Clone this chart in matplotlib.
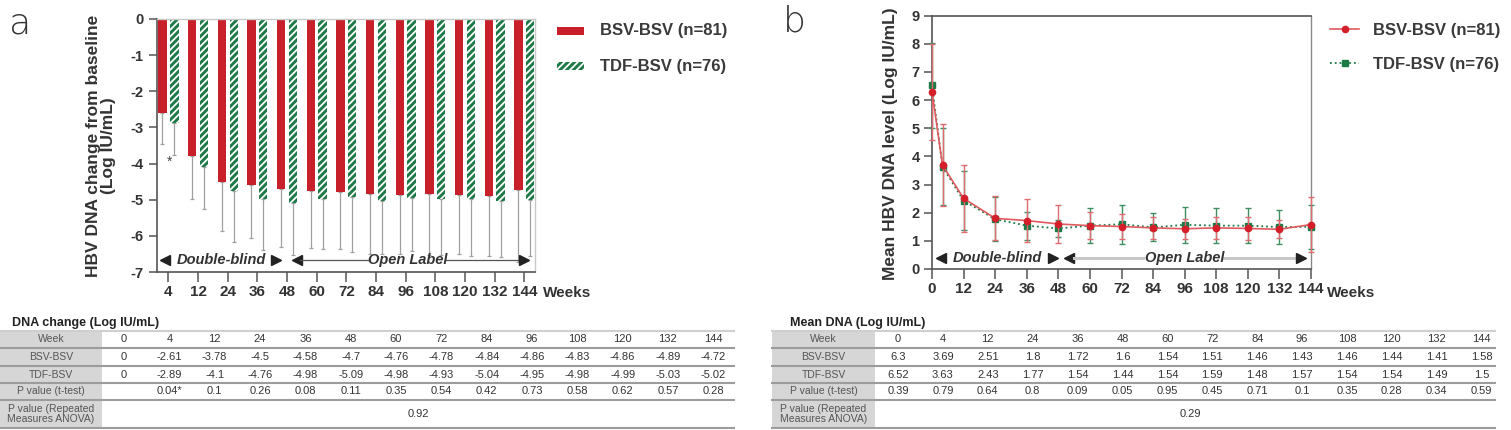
import matplotlib
matplotlib.use('Agg')
import matplotlib.pyplot as plt
import numpy as np
from matplotlib import font_manager as fm
from matplotlib.patches import Rectangle
from matplotlib.lines import Line2D

# ---------------- data ----------------
weeks_a = [4, 12, 24, 36, 48, 60, 72, 84, 96, 108, 120, 132, 144]
bsv_change = [-2.61, -3.78, -4.5, -4.58, -4.7, -4.76, -4.78, -4.84, -4.86, -4.83, -4.86, -4.89, -4.72]
tdf_change = [-2.89, -4.1, -4.76, -4.98, -5.09, -4.98, -4.93, -5.04, -4.95, -4.98, -4.99, -5.03, -5.02]
bsv_change_sd = [0.85, 1.20, 1.37, 1.48, 1.61, 1.57, 1.58, 1.65, 1.65, 1.69, 1.65, 1.68, 2.0]
tdf_change_sd = [0.88, 1.16, 1.42, 1.42, 1.45, 1.37, 1.53, 1.45, 1.48, 1.54, 1.58, 1.55, 1.55]

weeks_b = [0, 4, 12, 24, 36, 48, 60, 72, 84, 96, 108, 120, 132, 144]
bsv_mean = [6.3, 3.69, 2.51, 1.8, 1.72, 1.6, 1.54, 1.51, 1.46, 1.43, 1.46, 1.44, 1.41, 1.58]
tdf_mean = [6.52, 3.63, 2.43, 1.77, 1.54, 1.44, 1.54, 1.59, 1.48, 1.57, 1.54, 1.54, 1.49, 1.5]
bsv_sd = [1.7, 1.46, 1.2, 0.78, 0.75, 0.67, 0.47, 0.46, 0.40, 0.35, 0.40, 0.41, 0.32, 0.97]
tdf_sd = [1.5, 1.37, 1.06, 0.78, 0.5, 0.29, 0.61, 0.69, 0.5, 0.63, 0.61, 0.62, 0.61, 0.78]

series_labels = ['BSV-BSV (n=81)', 'TDF-BSV (n=76)']

table_weeks = [0, 4, 12, 24, 36, 48, 60, 72, 84, 96, 108, 120, 132, 144]
tbl_a_bsv = [0] + bsv_change
tbl_a_tdf = [0] + tdf_change
pval_a = ['', '0.04*', '0.1', '0.26', '0.08', '0.11', '0.35', '0.54', '0.42', '0.73', '0.58', '0.62', '0.57', '0.28']
anova_a = '0.92'
pval_b = ['0.39', '0.79', '0.64', '0.8', '0.09', '0.05', '0.95', '0.45', '0.71', '0.1', '0.35', '0.28', '0.34', '0.59']
anova_b = '0.29'
row_labels = ['Week', 'BSV-BSV', 'TDF-BSV', 'P value (t-test)', 'P value (Repeated\nMeasures ANOVA)']

# ---------------- style ----------------
plt.rcParams['axes.unicode_minus'] = False
plt.rcParams['font.family'] = ['Liberation Sans', 'DejaVu Sans']
plt.rcParams['hatch.linewidth'] = 1.3


def has_font(name):
    try:
        fm.findfont(fm.FontProperties(family=name), fallback_to_default=False)
        return True
    except Exception:
        return False


if has_font('Liberation Sans Narrow'):
    TFONT, TSIZE, LSIZE, TTSIZE = 'Liberation Sans Narrow', 9.5, 9, 10.5
else:
    TFONT, TSIZE, LSIZE, TTSIZE = 'Liberation Sans', 8, 7.5, 9

RED = '#c8202a'
GREEN = '#1d7a47'
TXT = '#333333'

W, H = 1511, 430
fig = plt.figure(figsize=(W / 100, H / 100), dpi=100)


def fx(px):
    return px / W


def fy(py):
    return 1 - py / H


# ---------------- panel a ----------------
axa = fig.add_axes([fx(157), fy(272), (535 - 157) / W, (272 - 19) / H])
x = np.arange(len(weeks_a))
zeros = np.zeros(len(x))
axa.errorbar(x - 0.2, bsv_change, yerr=[bsv_change_sd, zeros], fmt='none',
             ecolor='#a0a0a0', elinewidth=0.9, capsize=1.5, capthick=0.9, zorder=1)
axa.errorbar(x + 0.2, tdf_change, yerr=[tdf_change_sd, zeros], fmt='none',
             ecolor='#a0a0a0', elinewidth=0.9, capsize=1.5, capthick=0.9, zorder=1)
axa.bar(x - 0.2, bsv_change, 0.28, color=RED, linewidth=0, zorder=2)
axa.bar(x + 0.2, tdf_change, 0.28, color=GREEN, edgecolor='white', hatch='/////',
        linewidth=0, zorder=2)
axa.set_xlim(-0.385, 12.36)
axa.set_ylim(-7, 0)
axa.set_yticks(range(-7, 1))
axa.set_xticks(x)
axa.set_xticklabels([str(w) for w in weeks_a])
axa.tick_params(axis='x', length=7, width=1.1, pad=2.5, labelsize=11, colors='#555555',
                labelcolor=TXT)
axa.tick_params(axis='y', length=5.5, width=1.1, pad=4, labelsize=10.5, colors='#555555',
                labelcolor=TXT)
for lab in axa.get_xticklabels() + axa.get_yticklabels():
    lab.set_fontweight('bold')
for s in ['left', 'bottom']:
    axa.spines[s].set_color('#555555')
    axa.spines[s].set_linewidth(1.2)
for s in ['top', 'right']:
    axa.spines[s].set_color('#c8c8c8')
    axa.spines[s].set_linewidth(1.0)
axa.text(0.04, -3.95, '*', ha='center', va='center', fontsize=10, color='#444444')
axa.text(1.022, (272 - 293) / 253, 'Weeks', transform=axa.transAxes, ha='left', va='center',
         fontsize=11, fontweight='bold', color=TXT)

# phase annotations (a)
ya = -6.67
axa.plot([-0.13], [ya], marker='<', ms=7, color='#222222', clip_on=False)
axa.text(1.77, ya, 'Double-blind', ha='center', va='center', fontsize=10.5,
         fontweight='bold', style='italic', color='#333333')
axa.plot([3.64], [ya], marker='>', ms=7, color='#222222')
axa.plot([4.32], [ya], marker='<', ms=7, color='#222222')
axa.plot([4.45, 6.75], [ya, ya], color='#555555', lw=0.9)
axa.plot([9.35, 11.9], [ya, ya], color='#555555', lw=0.9)
axa.text(8.06, ya, 'Open Label', ha='center', va='center', fontsize=10.5,
         fontweight='bold', style='italic', color='#333333')
axa.plot([11.99], [ya], marker='>', ms=7, color='#222222')

fig.text(fx(101), fy(146), 'HBV DNA change from baseline\n(Log IU/mL)', rotation=90,
         ha='center', va='center', multialignment='center', fontsize=12.5,
         fontweight='bold', color=TXT, linespacing=1.05)
fig.text(fx(9), fy(33), 'a', fontsize=26, fontweight='light', color='#333333',
         family=['DejaVu Sans'], va='baseline')

# legend a
fig.add_artist(Rectangle((fx(557), fy(35)), 27 / W, 8 / H, transform=fig.transFigure,
                         facecolor=RED, linewidth=0))
fig.add_artist(Rectangle((fx(557), fy(70)), 27 / W, 8 / H, transform=fig.transFigure,
                         facecolor=GREEN, edgecolor='white', hatch='/////', linewidth=0))
fig.text(fx(600), fy(31), series_labels[0], ha='left', va='center', fontsize=12,
         fontweight='bold', color='#3a3a3a')
fig.text(fx(600), fy(66), series_labels[1], ha='left', va='center', fontsize=12,
         fontweight='bold', color='#3a3a3a')

# ---------------- panel b ----------------
axb = fig.add_axes([fx(932), fy(269), (1311 - 932) / W, (269 - 15.7) / H])
axb.errorbar(weeks_b, tdf_mean, yerr=tdf_sd, color=GREEN, ls=':', lw=1.3, marker='s', ms=4.5,
             ecolor='#3f8f63', elinewidth=1.0, capsize=2.5, capthick=1.0, clip_on=False,
             zorder=3)
axb.errorbar(weeks_b, bsv_mean, yerr=bsv_sd, color='#e05a5f', ls='-', lw=1.2, marker='o',
             ms=4.5, mfc='#d41f2a', mec='#d41f2a', ecolor='#e06a70', elinewidth=1.0,
             capsize=2.5, capthick=1.0, clip_on=False, zorder=4)
axb.set_xlim(0, 144)
axb.set_ylim(0, 9)
axb.set_xticks(range(0, 145, 12))
axb.set_yticks(range(0, 10))
axb.tick_params(axis='x', length=7, width=1.1, pad=2.5, labelsize=11, colors='#555555',
                labelcolor=TXT)
axb.tick_params(axis='y', length=6, width=1.1, pad=3, labelsize=10.5, colors='#555555',
                labelcolor=TXT)
for lab in axb.get_xticklabels() + axb.get_yticklabels():
    lab.set_fontweight('bold')
for s in ['left', 'bottom', 'top']:
    axb.spines[s].set_color('#555555')
    axb.spines[s].set_linewidth(1.2)
axb.spines['right'].set_color('#8a8a8a')
axb.spines['right'].set_linewidth(1.0)
axb.text(1.043, (269 - 293) / 253.3, 'Weeks', transform=axb.transAxes, ha='left',
         va='center', fontsize=11, fontweight='bold', color=TXT)

yb = 0.39
axb.plot([3.6], [yb], marker='<', ms=7, color='#222222')
axb.text(24.7, yb, 'Double-blind', ha='center', va='center', fontsize=10.5,
         fontweight='bold', style='italic', color='#333333')
axb.plot([45.8], [yb], marker='>', ms=7, color='#222222')
axb.plot([52.2], [yb], marker='<', ms=7, color='#222222')
axb.plot([54, 80], [yb, yb], color='#c8c8c8', lw=2.2)
axb.plot([111, 138], [yb, yb], color='#c8c8c8', lw=2.2)
axb.text(95.9, yb, 'Open Label', ha='center', va='center', fontsize=10.5,
         fontweight='bold', style='italic', color='#333333')
axb.plot([140.2], [yb], marker='>', ms=7, color='#222222')

fig.text(fx(891), fy(144), 'Mean HBV DNA level (Log IU/mL)', rotation=90, ha='center',
         va='center', fontsize=12.5, fontweight='bold', color=TXT)
fig.text(fx(783), fy(32), 'b', fontsize=26, fontweight='light', color='#333333',
         family=['DejaVu Sans'], va='baseline')

# legend b
fig.add_artist(Line2D([fx(1330), fx(1359)], [fy(29), fy(29)], transform=fig.transFigure,
                      color='#e05a5f', lw=1.2))
fig.add_artist(Line2D([fx(1344.5)], [fy(29)], transform=fig.transFigure, marker='o', ms=4.5,
                      color='#d41f2a', lw=0))
fig.add_artist(Line2D([fx(1330), fx(1359)], [fy(63), fy(63)], transform=fig.transFigure,
                      color=GREEN, lw=1.3, ls=':'))
fig.add_artist(Line2D([fx(1344.5)], [fy(63)], transform=fig.transFigure, marker='s', ms=4.5,
                      color=GREEN, lw=0))
fig.text(fx(1373), fy(30), series_labels[0], ha='left', va='center', fontsize=12,
         fontweight='bold', color='#3a3a3a')
fig.text(fx(1373), fy(64), series_labels[1], ha='left', va='center', fontsize=12,
         fontweight='bold', color='#3a3a3a')


# ---------------- tables ----------------
def fmt(v):
    return f'{v:g}'


def draw_table(x0, xg, x1, xc0, dx, title, title_x, r_bsv, r_tdf, r_p, anova, anova_x):
    ys = [331, 348, 366, 383, 400, 428]
    fig.add_artist(Rectangle((fx(x0), fy(428)), (xg - x0) / W, (428 - 331) / H,
                             transform=fig.transFigure, facecolor='#d6d6d6', linewidth=0))
    for i, yl in enumerate(ys):
        col = '#cfcfcf' if i == 0 else '#9c9c9c'
        fig.add_artist(Line2D([fx(x0), fx(x1)], [fy(yl), fy(yl)], transform=fig.transFigure,
                              color=col, lw=1.5))
    fig.text(fx(title_x), fy(323), title, ha='left', va='center', fontsize=TTSIZE,
             fontweight='bold', family=[TFONT, 'DejaVu Sans'], color='#222222')
    centers = [(ys[i] + ys[i + 1]) / 2 for i in range(5)]
    for lbl, yc in zip(row_labels, centers):
        fig.text(fx((x0 + xg) / 2), fy(yc), lbl, ha='center', va='center', fontsize=LSIZE,
                 family=[TFONT, 'DejaVu Sans'], color='#555555', linespacing=1.0)
    rows = [[str(w) for w in table_weeks], [fmt(v) for v in r_bsv], [fmt(v) for v in r_tdf], r_p]
    for r, row in enumerate(rows):
        for c, val in enumerate(row):
            fig.text(fx(xc0 + c * dx), fy(centers[r]), val, ha='center', va='center',
                     fontsize=TSIZE, family=[TFONT, 'DejaVu Sans'], color='#333333')
    fig.text(fx(anova_x), fy(centers[4]), anova, ha='center', va='center', fontsize=TSIZE,
             family=[TFONT, 'DejaVu Sans'], color='#333333')


draw_table(0, 102, 734, 124, 45.33, 'DNA change (Log IU/mL)', 12,
           tbl_a_bsv, tbl_a_tdf, pval_a, anova_a, 418)
draw_table(772, 875, 1495, 898, 44.9, 'Mean DNA (Log IU/mL)', 790,
           bsv_mean, tdf_mean, pval_b, anova_b, 1190)

fig.savefig('out.png', dpi=100)
